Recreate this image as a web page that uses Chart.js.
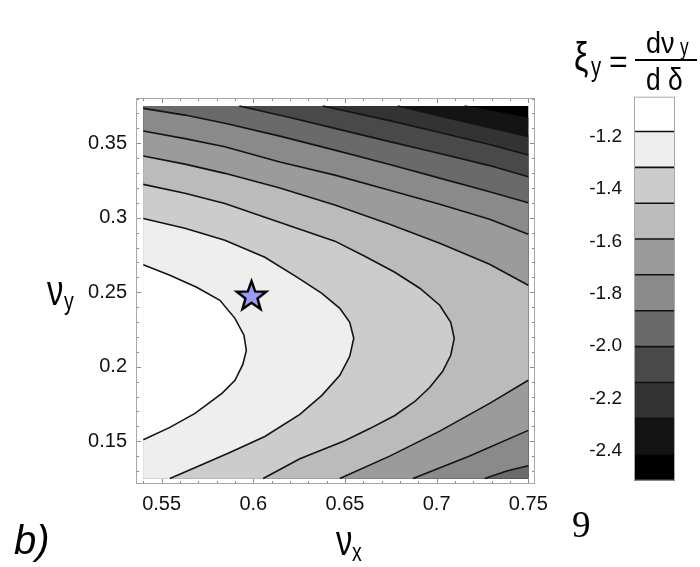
<!DOCTYPE html>
<html>
<head>
<meta charset="utf-8">
<script src="https://cdn.jsdelivr.net/npm/chart.js@4.4.1/dist/chart.umd.min.js"></script>
<style>
html,body{margin:0;padding:0;background:#fff;}
#wrap{position:relative;width:700px;height:567px;overflow:hidden;font-family:"Liberation Sans",Arial,sans-serif;}
#wrap canvas{position:absolute;left:0;top:0;}
.t{position:absolute;white-space:nowrap;color:#000;line-height:1;transform-origin:0 0;}
</style>
</head>
<body>
<div id="wrap">
  <canvas id="main" width="700" height="567"></canvas>
  <canvas id="cbar" width="700" height="567"></canvas>
  <!-- axis titles -->
  <div class="t" style="left:47px;top:270px;font-size:42px;transform:scaleX(0.78);">ν</div>
  <div class="t" style="left:64px;top:288px;font-size:26px;transform:scaleX(0.75);">y</div>
  <div class="t" style="left:336px;top:520px;font-size:42px;transform:scaleX(0.78);">ν</div>
  <div class="t" style="left:352px;top:539px;font-size:26px;transform:scaleX(0.75);">x</div>
  <!-- colour bar title -->
  <div class="t" style="left:574px;top:37px;font-size:40px;transform:scaleX(0.8);">ξ</div>
  <div class="t" style="left:591px;top:54px;font-size:27px;transform:scaleX(0.75);">y</div>
  <div class="t" style="left:609px;top:45px;font-size:32px;">=</div>
  <div style="position:absolute;left:635px;top:59px;width:62px;height:2px;background:#000;"></div>
  <div class="t" style="left:646px;top:28px;font-size:30px;transform:scaleX(0.9);">dν</div>
  <div class="t" style="left:680px;top:36px;font-size:23px;transform:scaleX(0.75);">y</div>
  <div class="t" style="left:646px;top:64px;font-size:31px;transform:scaleX(0.85);">d δ</div>
  <!-- panel marks -->
  <div class="t" style="left:572px;top:506px;font-size:37px;font-family:'Liberation Serif',serif;">9</div>
  <div class="t" style="left:14px;top:520px;font-size:40px;font-style:italic;">b)</div>
</div>
<script>
// ---------------- data ----------------
const xRange = [0.54, 0.75];            // extent of the computed field (νx)
const yRange = [0.125, 0.375];          // extent of the computed field (νy)
const xAxisRange = [0.53602, 0.75366];  // frame incl. plot-range padding
const yAxisRange = [0.12131, 0.38037];
const xTicks = [0.55, 0.6, 0.65, 0.7, 0.75];
const yTicks = [0.15, 0.2, 0.25, 0.3, 0.35];

const contourLevels = [-1.181, -1.318, -1.455, -1.591, -1.728, -1.865, -2.002, -2.139, -2.276, -2.412];
const bandColors = ['#ffffff', '#eeeeee', '#cccccc', '#bbbbbb', '#9b9b9b', '#8a8a8a',
                    '#6a6a6a', '#494949', '#333333', '#141414', '#000000'];
const colorbarRange = [-2.514, -1.048];
const colorbarTicks = [-1.2, -1.4, -1.6, -1.8, -2.0, -2.2, -2.4];

const workingPoint = [[0.599, 0.2478]];

// contour lines [νx, νy], lightest level first
const c1 = [[0.54,0.2684],[0.5545,0.2614],[0.5691,0.2534],[0.5818,0.2446],[0.5900,0.2325],[0.5949,0.2212],
            [0.5962,0.2110],[0.5943,0.2016],[0.5900,0.1909],[0.5829,0.1822],[0.5682,0.1687],[0.5545,0.1593],[0.54,0.1510]];
const c2 = [[0.54,0.2995],[0.5627,0.2930],[0.5845,0.2849],[0.6063,0.2735],[0.6236,0.2603],[0.6374,0.2493],
            [0.6472,0.2392],[0.6526,0.2298],[0.6548,0.2191],[0.6526,0.2070],[0.6472,0.1942],[0.6374,0.1808],
            [0.6254,0.1680],[0.6063,0.1532],[0.5872,0.1425],[0.5709,0.1337],[0.5545,0.125]];
const c3 = [[0.54,0.3224],[0.5627,0.3165],[0.5845,0.3096],[0.6063,0.3004],[0.6254,0.2923],[0.6445,0.2843],
            [0.6608,0.2742],[0.6772,0.2634],[0.6908,0.2527],[0.7017,0.2413],[0.7077,0.2298],[0.7096,0.2191],
            [0.7077,0.2077],[0.7033,0.1969],[0.6962,0.1861],[0.6881,0.1767],[0.6772,0.1673],[0.6635,0.1585],
            [0.6499,0.1504],[0.6254,0.1383],[0.6054,0.125]];
const c4Upper = [[0.54,0.3414],[0.5627,0.3360],[0.5845,0.3298],[0.6145,0.3199],[0.6445,0.3085],[0.6744,0.2957],
                 [0.7017,0.2829],[0.7289,0.2688],[0.75,0.2547]];
const c4Lower = [[0.6472,0.125],[0.6744,0.1400],[0.7017,0.1568],[0.7289,0.1754],[0.75,0.1909]];
const c5Upper = [[0.54,0.3582],[0.5627,0.3531],[0.5845,0.3476],[0.6145,0.3374],[0.6445,0.3286],[0.6744,0.3185],
                 [0.7017,0.3091],[0.7289,0.2990],[0.75,0.2890]];
const c5Lower = [[0.6871,0.125],[0.7180,0.1401],[0.75,0.1573]];
const c6Upper = [[0.54,0.3734],[0.5627,0.3689],[0.5845,0.3634],[0.6145,0.3548],[0.6445,0.3454],[0.6744,0.3357],
                 [0.7017,0.3266],[0.7289,0.3175],[0.75,0.3101]];
const c6Lower = [[0.7262,0.125],[0.7382,0.1300],[0.75,0.1335]];
const c7 = [[0.5924,0.375],[0.6199,0.3673],[0.6445,0.3600],[0.6744,0.3511],[0.7017,0.3431],[0.7289,0.3350],[0.75,0.3275]];
const c8 = [[0.6379,0.375],[0.6744,0.3652],[0.7017,0.3572],[0.7289,0.3491],[0.75,0.3421]];
const c9 = [[0.6788,0.375],[0.7126,0.3652],[0.75,0.3546]];
const c10 = [[0.7153,0.375],[0.75,0.3666]];

// ---------------- build datasets ----------------
const P = arr => arr.map(([x, y]) => ({x, y}));
const [X0, X1] = xRange, [Y0, Y1] = yRange;
const rev = a => a.slice().reverse();

// lighter side of each contour, painted darkest first
const regions = [
  [[X0,Y0],[X1,Y0],[X1,Y1],[X0,Y1]],
  [...c10, [X1,Y0],[X0,Y0],[X0,Y1]],
  [...c9,  [X1,Y0],[X0,Y0],[X0,Y1]],
  [...c8,  [X1,Y0],[X0,Y0],[X0,Y1]],
  [...c7,  [X1,Y0],[X0,Y0],[X0,Y1]],
  [...c6Upper, ...rev(c6Lower), [X0,Y0]],
  [...c5Upper, ...rev(c5Lower), [X0,Y0]],
  [...c4Upper, ...rev(c4Lower), [X0,Y0]],
  [...c3, [X0,Y0]],
  [...c2, [X0,Y0]],
  [...c1]
];
const regionColors = bandColors.slice().reverse();

const datasets = [];
regions.forEach((r, i) => {
  datasets.push({
    data: P(r), fill: 'shape', backgroundColor: regionColors[i],
    borderColor: 'rgba(0,0,0,0)', borderWidth: 1, pointRadius: 0, order: 300 - i * 10
  });
});
[c1, c2, c3, c4Upper, c4Lower, c5Upper, c5Lower, c6Upper, c6Lower, c7, c8, c9, c10].forEach(line => {
  datasets.push({
    data: P(line), fill: false, borderColor: '#141414', borderWidth: 1.6,
    pointRadius: 0, order: 50
  });
});

function makeStar(R, r, fill, stroke, lw) {
  const size = Math.ceil(2 * R + 4 * lw + 4);
  const c = document.createElement('canvas');
  c.width = c.height = size;
  const g = c.getContext('2d');
  g.translate(size / 2, size / 2 + 1);
  g.beginPath();
  for (let i = 0; i < 10; i++) {
    const rad = i % 2 === 0 ? R : r;
    const a = -Math.PI / 2 + i * Math.PI / 5;
    g.lineTo(rad * Math.cos(a), rad * Math.sin(a));
  }
  g.closePath();
  g.fillStyle = fill; g.fill();
  g.lineJoin = 'miter'; g.miterLimit = 10;
  g.lineWidth = lw; g.strokeStyle = stroke; g.stroke();
  return c;
}
datasets.push({
  data: P(workingPoint), showLine: false, pointStyle: makeStar(15.5, 6.3, '#9a9af7', '#000', 2.4),
  pointRadius: 12, order: 0
});

Chart.defaults.font.family = '"Liberation Sans", Arial, sans-serif';
Chart.defaults.color = '#111';

const frameTicks = {
  id: 'frameTicks',
  afterDraw(chart) {
    const {ctx, chartArea: a} = chart;
    const xs = chart.scales.x, ys = chart.scales.y;
    ctx.save();
    ctx.lineWidth = 1;
    ctx.strokeStyle = '#8c8c8c';
    ctx.beginPath();
    for (let k = Math.ceil(xs.min * 100); k <= Math.floor(xs.max * 100); k++) {
      const px = Math.round(xs.getPixelForValue(k / 100)) + 0.5;
      const len = k % 5 === 0 ? 5 : 3;
      ctx.moveTo(px, a.bottom); ctx.lineTo(px, a.bottom - len);
      ctx.moveTo(px, a.top); ctx.lineTo(px, a.top + len);
    }
    for (let k = Math.ceil(ys.min * 100); k <= Math.floor(ys.max * 100); k++) {
      const py = Math.round(ys.getPixelForValue(k / 100)) + 0.5;
      const len = k % 5 === 0 ? 5 : 3;
      ctx.moveTo(a.left, py); ctx.lineTo(a.left + len, py);
      ctx.moveTo(a.right, py); ctx.lineTo(a.right - len, py);
    }
    ctx.stroke();
    ctx.strokeStyle = '#a8a8a8';
    ctx.strokeRect(a.left + 0.5, a.top + 0.5, a.width - 1, a.height - 1);
    ctx.restore();
  }
};

new Chart(document.getElementById('main'), {
  type: 'line',
  data: {datasets},
  options: {
    responsive: false, animation: false,
    layout: {padding: {left: 0, top: 98, right: 165, bottom: 0}},
    plugins: {legend: {display: false}, tooltip: {enabled: false}},
    elements: {line: {tension: 0}, point: {radius: 0}},
    scales: {
      x: {
        type: 'linear', min: xAxisRange[0], max: xAxisRange[1],
        afterBuildTicks: s => { s.ticks = xTicks.map(v => ({value: v})); },
        afterFit: s => { s.height = 83; },
        grid: {display: false, drawTicks: false}, border: {display: false},
        ticks: {font: {size: 20}, color: '#111', padding: 8, maxRotation: 0, autoSkip: false,
                callback: v => String(v)}
      },
      y: {
        type: 'linear', min: yAxisRange[0], max: yAxisRange[1],
        afterBuildTicks: s => { s.ticks = yTicks.map(v => ({value: v})); },
        afterFit: s => { s.width = 136; },
        grid: {display: false, drawTicks: false}, border: {display: false},
        ticks: {font: {size: 20}, color: '#111', padding: 9, autoSkip: false,
                callback: v => String(v)}
      }
    }
  },
  plugins: [frameTicks]
});

// ---------------- colour bar ----------------
const cbBounds = [colorbarRange[1], ...contourLevels, colorbarRange[0]];
const cbDatasets = bandColors.map((col, i) => ({
  data: [[cbBounds[i + 1], cbBounds[i]]],
  backgroundColor: col, borderWidth: 0,
  barPercentage: 1, categoryPercentage: 1, grouped: false
}));

const cbLines = {
  id: 'cbLines',
  afterDatasetsDraw(chart) {
    const {ctx, chartArea: a} = chart;
    const ys = chart.scales.y;
    ctx.save();
    ctx.strokeStyle = '#111'; ctx.lineWidth = 1.6;
    ctx.beginPath();
    contourLevels.forEach(v => {
      const py = ys.getPixelForValue(v);
      ctx.moveTo(a.left, py); ctx.lineTo(a.right, py);
    });
    ctx.stroke();
    ctx.strokeStyle = '#a8a8a8'; ctx.lineWidth = 1;
    ctx.strokeRect(a.left + 0.5, a.top + 0.5, a.width - 1, a.height - 1);
    ctx.restore();
  }
};

new Chart(document.getElementById('cbar'), {
  type: 'bar',
  data: {labels: ['ξy'], datasets: cbDatasets},
  options: {
    responsive: false, animation: false,
    layout: {padding: {left: 0, top: 96.7, right: 25, bottom: 86.3}},
    plugins: {legend: {display: false}, tooltip: {enabled: false}},
    scales: {
      x: {display: false, stacked: true},
      y: {
        min: colorbarRange[0], max: colorbarRange[1],
        afterBuildTicks: s => { s.ticks = colorbarTicks.map(v => ({value: v})); },
        afterFit: s => { s.width = 634; },
        grid: {display: false, drawTicks: false}, border: {display: false},
        ticks: {font: {size: 19}, color: '#111', padding: 12, autoSkip: false,
                callback: v => Number(v).toFixed(1)}
      }
    }
  },
  plugins: [cbLines]
});
</script>
</body>
</html>
